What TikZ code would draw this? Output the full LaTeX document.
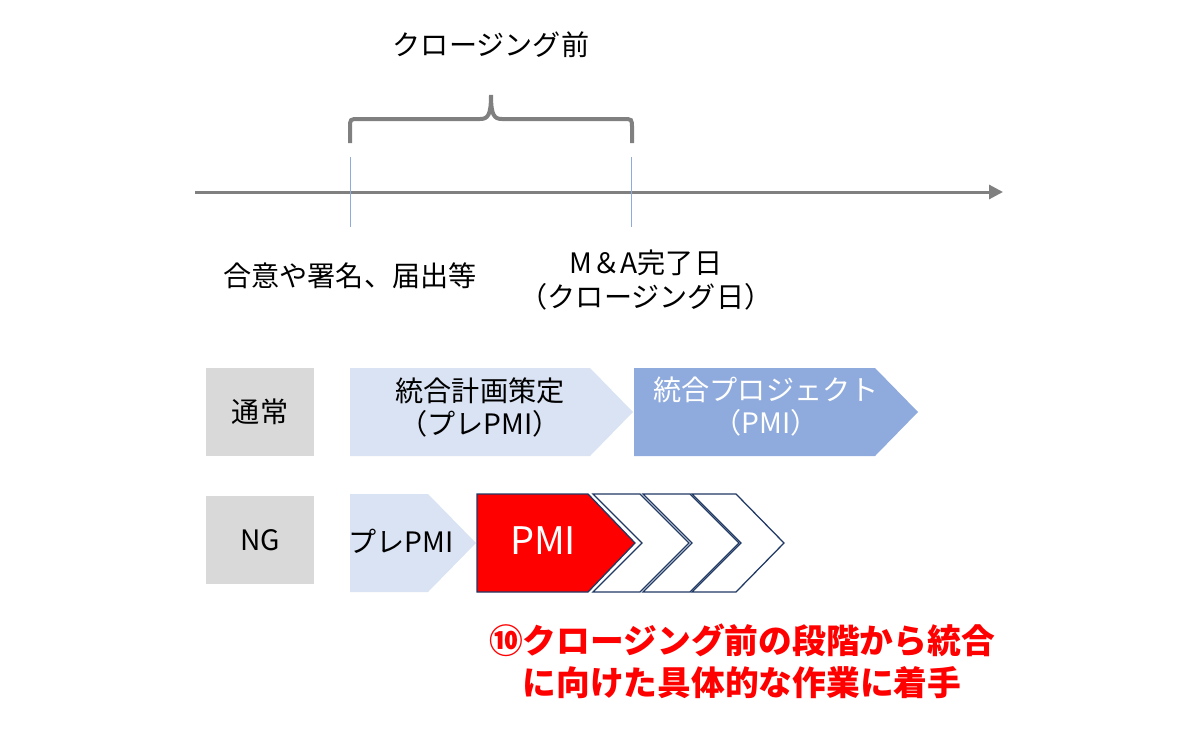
\documentclass[tikz,border=0pt]{standalone}
\usepackage{fontspec}
\setmainfont{Noto Sans CJK JP}
\usetikzlibrary{arrows.meta}
\definecolor{axisgray}{HTML}{808080}
\definecolor{palebl}{HTML}{DAE3F3}
\definecolor{midbl}{HTML}{8FAADC}
\definecolor{navyline}{HTML}{203864}
\definecolor{boxgray}{HTML}{D9D9D9}
\definecolor{alertred}{HTML}{FF0000}

\begin{document}
\begin{tikzpicture}[x=0.025cm, y=-0.025cm,
    txt/.style={font=\fontsize{20}{23.5}\selectfont, align=center, inner sep=0pt},
    rowbox/.style={fill=boxgray, minimum width=2.7cm, minimum height=2.2cm, inner sep=0pt, font=\fontsize{20}{24}\selectfont},
    axis/.style={-{Triangle[length=0.35cm, width=0.35cm]}, line width=0.075cm, axisgray},
    tick/.style={midbl, line width=0.7pt},
    brace/.style={axisgray, line width=0.1cm},
    chev/.style={fill=white, draw=navyline, line width=0.9pt}
]
\useasboundingbox (0,0) rectangle (1200,729);

% time axis
\coordinate (start) at (195,192);
\coordinate (end) at (1003,192);
\draw[axis] (start) -- (end);
\draw[tick] (350,157) -- (350,227);
\draw[tick] (631,157) -- (631,227);

% brace
\draw[brace] (350,143) -- (350,128) .. controls (350,119) .. (359,119) -- (480,119)
  .. controls (488,119) and (491,115) .. (491,95)
  .. controls (491,115) and (494,119) .. (502,119) -- (623,119)
  .. controls (632,119) .. (632,128) -- (632,143);
\node[txt] (before) at (491,45) {クロージング前};

\node[txt] (sign) at (350,276) {合意や署名、届出等};
\node[txt, font=\fontsize{20}{24}\selectfont] (close) at (646,280) {M＆A完了日\\（クロージング日）};

% rows
\node[rowbox] (normal) at (260,412) {通常};
\node[rowbox] (ng) at (260,540) {NG};

\fill[palebl] (350,368) -- (590,368) -- (633,412) -- (590,456) -- (350,456) -- cycle;
\fill[midbl] (634,368) -- (875,368) -- (918,412) -- (875,456) -- (634,456) -- cycle;
\node[txt] (plan) at (480,407) {統合計画策定\\（プレPMI）};
\node[txt, white] (proj) at (766,407) {統合プロジェクト\\（PMI）};

\fill[palebl] (350,494) -- (428,494) -- (476,543) -- (428,592) -- (350,592) -- cycle;
\node[txt] (pre) at (401,541) {プレPMI};
\draw[fill=alertred, draw=navyline, line width=0.9pt] (477,494) -- (588,494) -- (635,543) -- (588,592) -- (477,592) -- cycle;
\node[txt, white, font=\fontsize{27}{30}\selectfont] (pmi) at (543,541) {PMI};
\draw[chev] (593,494) -- (640,494) -- (689,543) -- (640,592) -- (593,592) -- (642,543) -- cycle;
\draw[chev] (643,494) -- (690,494) -- (739,543) -- (690,592) -- (643,592) -- (692,543) -- cycle;
\draw[chev] (692,494) -- (736,494) -- (784,543) -- (736,592) -- (692,592) -- (741,543) -- cycle;

% note
\node[txt, alertred, font=\bfseries\fontsize{24}{30}\selectfont] (note) at (742,661) {⑩クロージング前の段階から統合\\に向けた具体的な作業に着手};
\end{tikzpicture}
\end{document}
